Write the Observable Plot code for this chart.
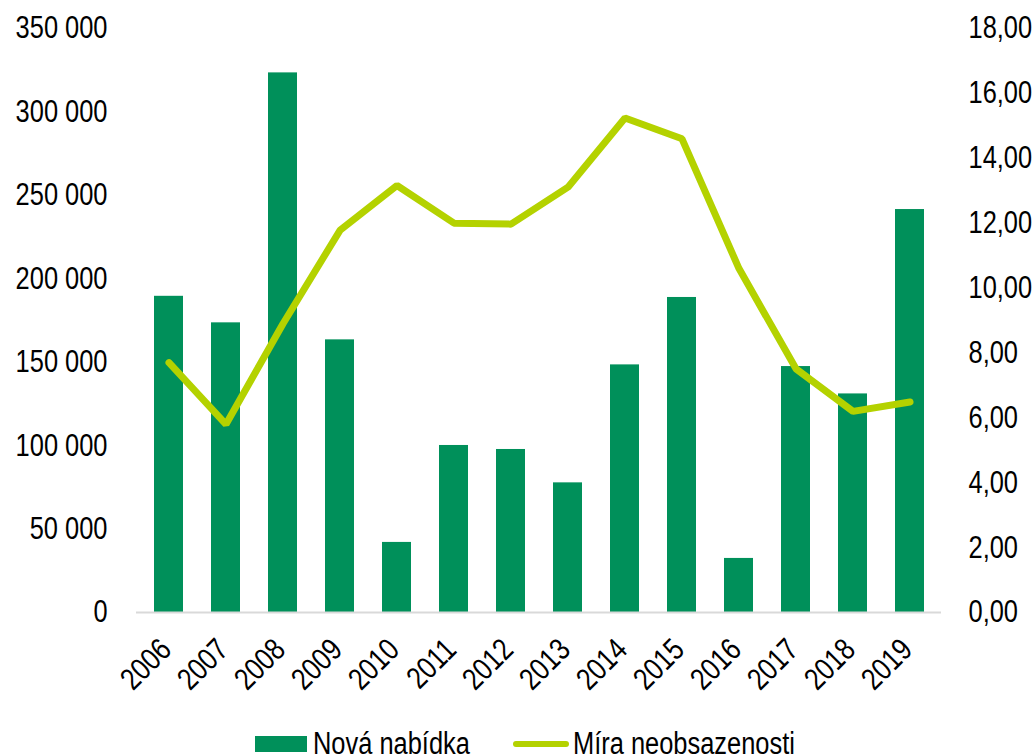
<!DOCTYPE html>
<html>
<head>
<meta charset="utf-8">
<script src="https://cdn.jsdelivr.net/npm/d3@7"></script>
<script src="https://cdn.jsdelivr.net/npm/@observablehq/plot@0.6"></script>
<style>
  html, body { margin: 0; padding: 0; background: #fff; overflow: hidden; }
  #wrap { position: relative; width: 1036px; height: 755px; font-family: "Liberation Sans", Arial, sans-serif; }
  #legend { position: absolute; left: 0; top: 726px; width: 1036px; height: 40px; font-size: 31px; color: #000; }
  .item { position: absolute; top: 0; display: flex; align-items: center; white-space: nowrap; }
  .item span { display: inline-block; transform: scaleX(0.82); transform-origin: 0 50%; }
  .sw-bar { width: 52px; height: 16px; background: #00905a; margin-right: 6px; }
  .sw-line { width: 56px; height: 6px; border-radius: 3px; background: #b4d200; margin-right: 4px; }
</style>
</head>
<body>
<div id="wrap">
  <div id="chart"></div>
  <div id="legend"></div>
</div>
<script>
// ---- data ----
const years = ["2006","2007","2008","2009","2010","2011","2012","2013","2014","2015","2016","2017","2018","2019"];
const novaNabidka = [189500, 173600, 323400, 163400, 42000, 100100, 97700, 77700, 148400, 188800, 32400, 147400, 131000, 241500];
const miraNeobsazenosti = [7.70, 5.80, 8.90, 11.78, 13.16, 12.00, 11.97, 13.11, 15.24, 14.60, 10.60, 7.51, 6.20, 6.49];
const leftTicks = [0, 50000, 100000, 150000, 200000, 250000, 300000, 350000];
const rightTicks = [0, 2, 4, 6, 8, 10, 12, 14, 16, 18];
const seriesNames = ["Nová nabídka", "Míra neobsazenosti"];

const leftMax = 350000, rightMax = 18;
const toLeft = v => v * leftMax / rightMax;

const loc = d3.formatLocale({decimal: ",", thousands: " ", grouping: [3], currency: ["", ""]});
const fmtLeft = loc.format(",d");
const fmtRight = loc.format(".2f");

const barsData = years.map((y, i) => ({year: y, value: novaNabidka[i]}));
const lineData = years.map((y, i) => ({year: y, value: miraNeobsazenosti[i]}));

const font = '"Liberation Sans", Arial, sans-serif';

const chart = Plot.plot({
  width: 1036,
  height: 726,
  marginTop: 28,
  marginBottom: 114,
  marginLeft: 136,
  marginRight: 95,
  style: {fontFamily: font, fontSize: "31px", color: "#000", background: "#fff", overflow: "visible"},
  x: {type: "band", domain: years, paddingInner: 0.5, paddingOuter: 0.25, label: null},
  y: {domain: [0, leftMax], label: null},
  marks: [
    Plot.barY(barsData, {x: "year", y: "value", fill: "#00905a"}),
    Plot.ruleY([0], {stroke: "#d9d9d9", strokeWidth: 2}),
    Plot.lineY(lineData, {x: "year", y: d => toLeft(d.value), stroke: "#b4d200", strokeWidth: 7, strokeLinecap: "round", strokeLinejoin: "miter"}),
    Plot.axisY({anchor: "left", ticks: leftTicks, tickFormat: fmtLeft, tickSize: 0, tickPadding: 29, label: null, fontSize: 31}),
    Plot.axisY({anchor: "right", ticks: rightTicks.map(toLeft), tickFormat: v => fmtRight(v * rightMax / leftMax), tickSize: 0, tickPadding: 27, label: null, fontSize: 31}),
    Plot.axisX({tickRotate: -45, tickSize: 0, tickPadding: 32, dx: -3, label: null, fontSize: 31})
  ]
});
document.getElementById("chart").appendChild(chart);

// condense the text horizontally (narrow face look)
chart.querySelectorAll("text").forEach(t => {
  const len = t.getComputedTextLength();
  if (len > 0) {
    t.setAttribute("textLength", (len * 0.82).toFixed(1));
    t.setAttribute("lengthAdjust", "spacingAndGlyphs");
  }
});

const legend = document.getElementById("legend");
legend.innerHTML =
  `<div class="item" style="left:255px"><div class="sw-bar"></div><span>${seriesNames[0]}</span></div>` +
  `<div class="item" style="left:513px"><div class="sw-line"></div><span>${seriesNames[1]}</span></div>`;
</script>
</body>
</html>
